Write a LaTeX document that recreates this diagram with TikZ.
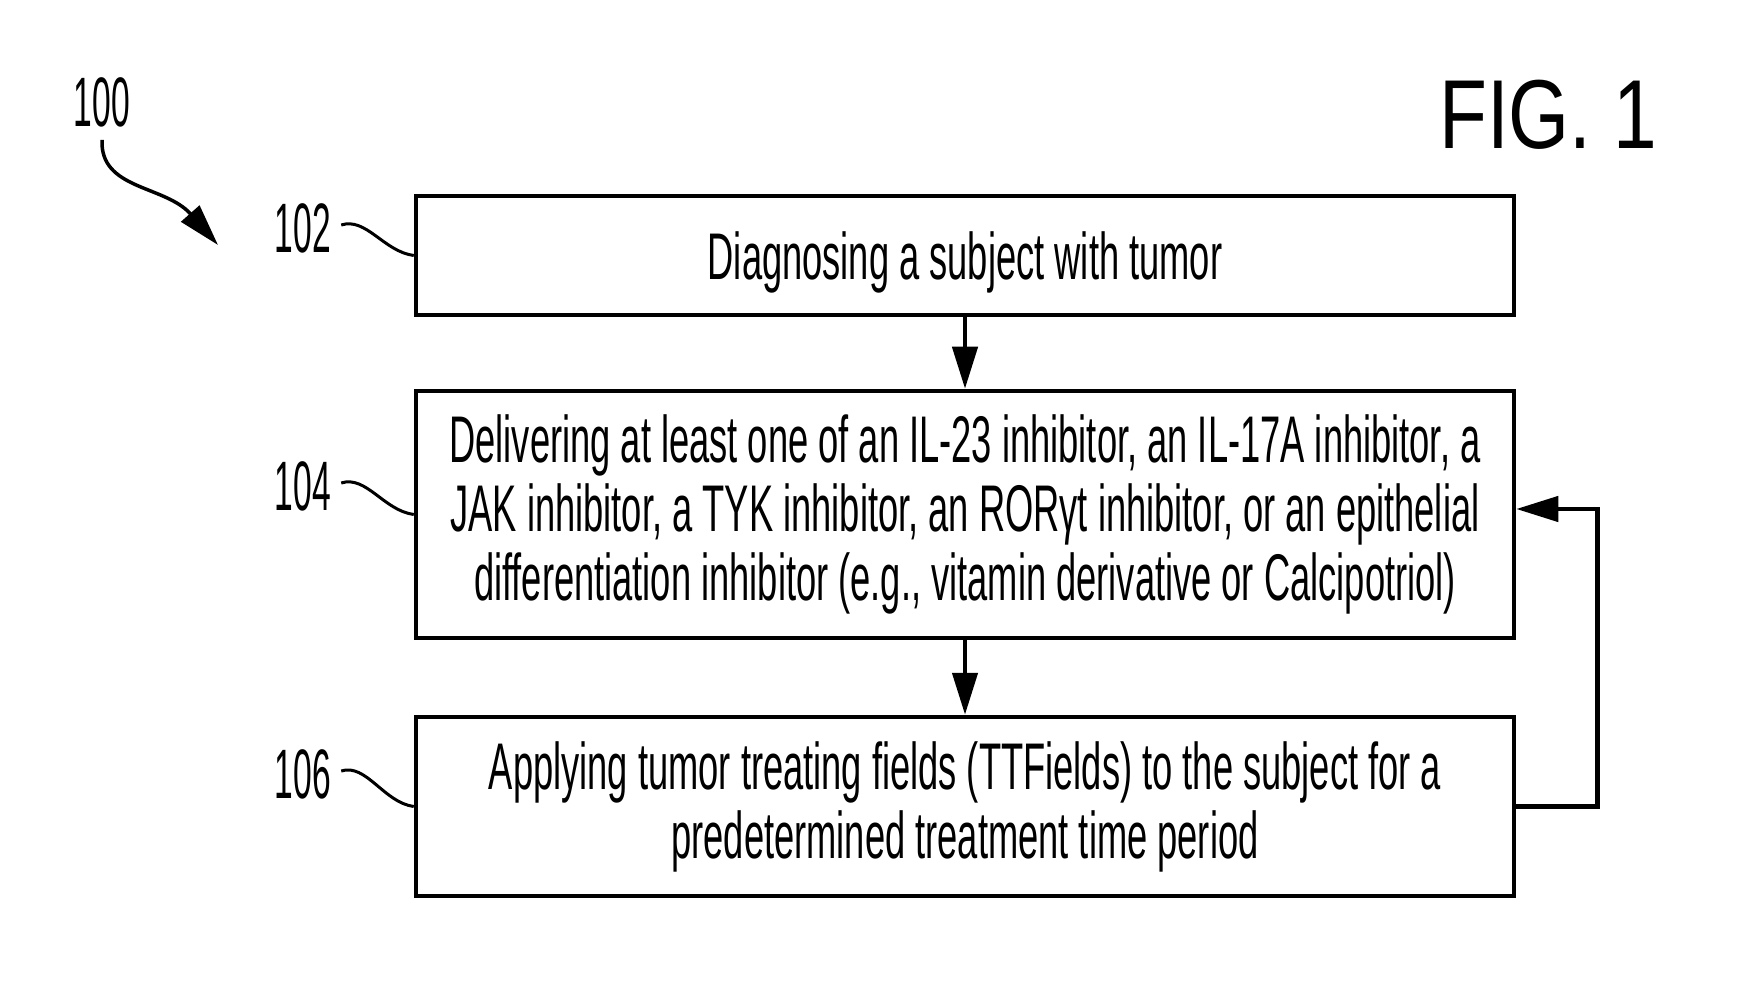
\documentclass[tikz,border=0pt]{standalone}
\usepackage{fontspec}
\setmainfont{Liberation Sans}
\newfontfamily\boxfont[FakeStretch=0.55]{Liberation Sans}
\newfontfamily\numfont[FakeStretch=0.48]{Liberation Sans}
\newfontfamily\figfont[FakeStretch=0.8]{Liberation Sans}
\usetikzlibrary{arrows.meta}
\begin{document}
\begin{tikzpicture}[x=1pt,y=-1pt,
  stepbox/.style={draw, line width=4.5pt, minimum width=1098pt, inner sep=0pt, align=center,
    font=\boxfont\fontsize{66}{69}\selectfont},
  reflabel/.style={inner sep=0pt, font=\numfont\fontsize{70}{72}\selectfont},
  squig/.style={line width=3pt},
  arr/.style={line width=4.5pt, -{Triangle[width=25pt,length=42pt]}}
]
\useasboundingbox[fill=white] (0,0) rectangle (1743,981);

\node[stepbox, minimum height=119pt, text depth=0pt] (b1) at (965,255.5) {Diagnosing a subject with tumor};
\node[stepbox, minimum height=247pt] (b2) at (965,514.5) {Delivering at least one of an IL-23 inhibitor, an IL-17A inhibitor, a\\JAK inhibitor, a TYK inhibitor, an RORγt inhibitor, or an epithelial\\differentiation inhibitor (e.g., vitamin derivative or Calcipotriol)};
\node[stepbox, minimum height=179pt] (b3) at (965,806.5) {Applying tumor treating fields (TTFields) to the subject for a\\predetermined treatment time period};

\node[reflabel] (l0) at (102,102) {100};
\node[reflabel] (l1) at (303,228) {102};
\node[reflabel] (l2) at (303,486) {104};
\node[reflabel] (l3) at (303,774) {106};
\node[inner sep=0pt, font=\figfont\fontsize{98}{100}\selectfont] (fig) at (1548,115) {FIG. 1};

\coordinate (p0) at (102,140);
\coordinate (p0end) at (218,245);
\draw[line width=3.5pt, -{Triangle[width=24pt,length=42pt]}] (p0) .. controls (100,190) and (165,185) .. (p0end);

\draw[squig] ([xshift=10pt,yshift=3pt]l1.east) .. controls +(25,-8) and +(-30,-4) .. (b1.west);
\draw[squig] ([xshift=10pt,yshift=3pt]l2.east) .. controls +(25,-8) and +(-30,-4) .. (b2.west);
\draw[squig] ([xshift=10pt,yshift=3pt]l3.east) .. controls +(25,-8) and +(-30,-4) .. (b3.west);

\draw[arr] (b1.south) -- (b2.north);
\draw[arr] (b2.south) -- (b3.north);
\draw[arr] (b3.east) -- ++(81,0) |- ([yshift=5.5pt]b2.east);
\end{tikzpicture}
\end{document}
